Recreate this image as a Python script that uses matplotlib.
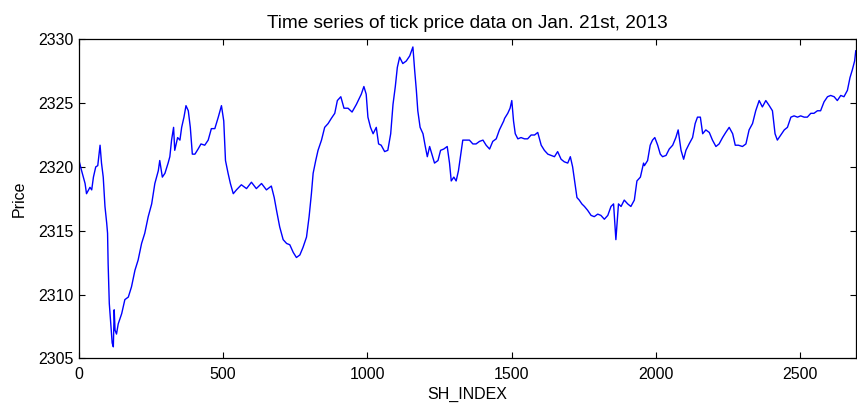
import numpy as np
import matplotlib
matplotlib.use("Agg")
import matplotlib.pyplot as plt

plt.rcParams['font.family'] = ['Liberation Sans', 'DejaVu Sans']

# tick index and price
tick_index = [
    0, 9, 21, 26, 38, 44, 50, 58, 65, 73,
    78, 84, 90, 96, 99, 101, 105, 111, 115, 119,
    122, 125, 130, 136, 148, 159, 171, 182, 194, 205,
    217, 228, 240, 252, 263, 275, 280, 289, 298, 309,
    315, 321, 328, 332, 342, 350, 356, 364, 371, 379,
    386, 393, 402, 413, 423, 436, 448, 459, 471, 483,
    494,
    502, 508, 517, 525, 535, 546, 563, 581, 598, 615,
    633, 650, 667, 677, 685, 696, 708, 720, 731, 743,
    754, 766, 777, 789, 798, 806, 812, 821, 829, 841,
    852, 864, 875, 887, 896, 908, 919, 933, 947, 962,
    979, 988,
    996, 1002, 1011, 1020, 1031, 1039, 1048, 1060, 1071, 1081,
    1089, 1097, 1104, 1112, 1123, 1135, 1147, 1158, 1164, 1170,
    1175, 1183, 1193, 1201, 1208, 1216, 1224, 1233, 1245, 1254,
    1265, 1277, 1285, 1291, 1300, 1308, 1316, 1323, 1331, 1343,
    1354, 1366, 1377, 1389, 1401, 1412, 1424, 1435, 1447, 1458,
    1473,
    1476, 1487, 1495, 1501, 1507, 1513, 1522, 1533, 1545, 1556,
    1568, 1580, 1591, 1603, 1614, 1626, 1637, 1649, 1660, 1672,
    1683, 1695, 1704, 1712, 1720, 1727, 1735, 1744, 1753, 1764,
    1776, 1787, 1799, 1810, 1822, 1834, 1845, 1854, 1862, 1871,
    1880, 1891, 1903, 1914, 1926, 1935, 1947, 1958,
    1961, 1972, 1981, 1989, 1997, 2007, 2016, 2024, 2036, 2047,
    2059, 2070, 2078, 2088, 2097, 2105, 2116, 2128, 2137, 2145,
    2155, 2163, 2174, 2186, 2197, 2209, 2220, 2232, 2243, 2255,
    2267, 2276, 2287,
    2301, 2313, 2324, 2336, 2347, 2359, 2370, 2382, 2394, 2405,
    2414, 2422, 2434, 2446, 2457, 2469, 2480, 2492, 2503, 2515,
    2526, 2538, 2549, 2561, 2572, 2584, 2596, 2607, 2619, 2630,
    2642, 2653, 2665, 2674, 2682, 2690, 2694,
]
price = [
    2320.5, 2319.7, 2318.7, 2317.9, 2318.4, 2318.2, 2319.2, 2320.0, 2320.1, 2321.7,
    2320.3, 2319.2, 2316.9, 2315.6, 2314.8, 2312.4, 2309.3, 2307.5, 2306.2, 2305.9,
    2308.8, 2307.2, 2306.9, 2307.7, 2308.5, 2309.6, 2309.8, 2310.6, 2311.9, 2312.7,
    2314.0, 2314.8, 2316.1, 2317.1, 2318.7, 2319.7, 2320.5, 2319.2, 2319.5, 2320.3,
    2320.8, 2322.1, 2323.1, 2321.3, 2322.3, 2322.1, 2323.1, 2323.9, 2324.8, 2324.4,
    2323.1, 2321.0, 2321.0, 2321.4, 2321.8, 2321.7, 2322.1, 2323.0, 2323.0, 2323.9,
    2324.8,
    2323.6, 2320.5, 2319.5, 2318.7, 2317.9, 2318.2, 2318.6, 2318.3, 2318.8, 2318.3,
    2318.7, 2318.2, 2318.5, 2317.6, 2316.6, 2315.3, 2314.3, 2314.0, 2313.9, 2313.3,
    2312.9, 2313.1, 2313.7, 2314.5, 2316.1, 2317.9, 2319.5, 2320.5, 2321.3, 2322.1,
    2323.1, 2323.4, 2323.8, 2324.2, 2325.2, 2325.5, 2324.6, 2324.6, 2324.3, 2324.9,
    2325.7, 2326.3,
    2325.7, 2323.9, 2323.1, 2322.6, 2323.1, 2321.8, 2321.7, 2321.2, 2321.3, 2322.6,
    2324.9, 2326.3, 2327.8, 2328.6, 2328.1, 2328.3, 2328.7, 2329.4, 2327.6, 2326.0,
    2324.4, 2323.1, 2322.6, 2321.6, 2320.8, 2321.6, 2321.0, 2320.3, 2320.5, 2321.3,
    2321.4, 2321.6, 2320.3, 2318.9, 2319.2, 2318.9, 2319.7, 2320.8, 2322.1, 2322.1,
    2322.1, 2321.8, 2321.8, 2322.0, 2322.1, 2321.7, 2321.4, 2322.0, 2322.2, 2322.9,
    2323.6,
    2323.8, 2324.2, 2324.6, 2325.2, 2323.6, 2322.6, 2322.2, 2322.3, 2322.2, 2322.2,
    2322.5, 2322.5, 2322.7, 2321.7, 2321.3, 2321.0, 2320.9, 2320.8, 2321.2, 2320.6,
    2320.4, 2320.3, 2320.8, 2320.0, 2318.7, 2317.6, 2317.4, 2317.1, 2316.9, 2316.6,
    2316.2, 2316.1, 2316.3, 2316.2, 2315.9, 2316.2, 2316.9, 2317.1, 2314.3, 2317.1,
    2316.9, 2317.4, 2317.1, 2316.9, 2317.4, 2318.9, 2319.2, 2320.3,
    2320.1, 2320.5, 2321.7, 2322.1, 2322.3, 2321.7, 2321.0, 2320.8, 2320.9, 2321.4,
    2321.7, 2322.3, 2322.9, 2321.3, 2320.6, 2321.3, 2321.8, 2322.3, 2323.4, 2323.9,
    2323.9, 2322.6, 2322.9, 2322.7, 2322.1, 2321.6, 2321.8, 2322.3, 2322.7, 2323.1,
    2322.6, 2321.7, 2321.7,
    2321.6, 2321.8, 2322.9, 2323.4, 2324.4, 2325.2, 2324.7, 2325.2, 2324.8, 2324.4,
    2322.6, 2322.1, 2322.5, 2322.9, 2323.1, 2323.9, 2324.0, 2323.9, 2324.0, 2323.9,
    2323.9, 2324.2, 2324.2, 2324.4, 2324.4, 2325.1, 2325.5, 2325.6, 2325.5, 2325.2,
    2325.6, 2325.5, 2326.0, 2327.0, 2327.6, 2328.3, 2329.1,
]

x_ticks = [0, 500, 1000, 1500, 2000, 2500]
y_ticks = [2305, 2310, 2315, 2320, 2325, 2330]

fig = plt.figure(figsize=(8.57, 4.04), dpi=100)
ax = fig.add_axes([0.0922, 0.1131, 0.9067, 0.7896])

ax.plot(tick_index, price, color=(0, 0, 1), linewidth=1.0)

ax.set_xlim(0, 2695)
ax.set_ylim(2305, 2330)
ax.set_xticks(x_ticks)
ax.set_yticks(y_ticks)
ax.tick_params(direction='in', length=4.5, width=0.8, top=True, right=True,
               labelsize=11.5, pad=4)
ax.tick_params(axis='x', pad=6)
for sp in ax.spines.values():
    sp.set_linewidth(0.9)

ax.set_title('Time series of tick price data on Jan. 21st, 2013', fontsize=13.7, pad=8)
ax.set_xlabel('SH_INDEX', fontsize=11.5, labelpad=4)
ax.set_ylabel('Price', fontsize=11.5, labelpad=8)

fig.savefig('out.png', dpi=100)
